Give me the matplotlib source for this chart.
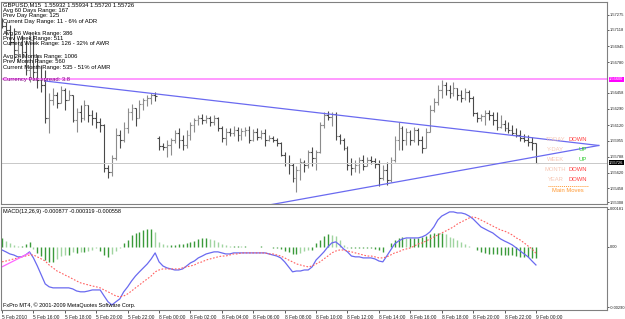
import matplotlib
matplotlib.use("Agg")
import matplotlib.pyplot as plt
import matplotlib.transforms as mtransforms
import numpy as np

plt.rcParams['font.family'] = ['Liberation Sans', 'DejaVu Sans']

# GBPUSD M15, one bar per 15 minutes from 5 Feb 2010 14:00 to 9 Feb 2010 00:00
bar_open = [
    1.57222, 1.57160, 1.57117, 1.56991, 1.56907, 1.56960, 1.56886, 1.56697, 1.57012, 1.56676,
    1.56592, 1.56540, 1.56193, 1.56382, 1.56435, 1.56351, 1.56487, 1.56382, 1.56435, 1.56172,
    1.56256, 1.56193, 1.56330, 1.56225, 1.56193, 1.56151, 1.56120, 1.55668, 1.55626, 1.55773,
    1.56015, 1.55962, 1.56088, 1.56256, 1.56298, 1.56193, 1.56340, 1.56382, 1.56403, 1.56435,
    1.55983, 1.55899, 1.55889, 1.55910, 1.55962, 1.56036, 1.55962, 1.55910, 1.56015, 1.56120,
    1.56172, 1.56193, 1.56172, 1.56193, 1.56151, 1.56193, 1.56088, 1.55983, 1.56046, 1.56036,
    1.56067, 1.56015, 1.56057, 1.56067, 1.55962, 1.56046, 1.55994, 1.56036, 1.55962, 1.55983,
    1.55962, 1.55931, 1.55805, 1.55721, 1.55700, 1.55563, 1.55647, 1.55731, 1.55700, 1.55836,
    1.55773, 1.55836, 1.56120, 1.56225, 1.56204, 1.56235, 1.56004, 1.55962, 1.55878, 1.55700,
    1.55668, 1.55700, 1.55752, 1.55689, 1.55752, 1.55742, 1.55710, 1.55563, 1.55647, 1.55542,
    1.55752, 1.55962, 1.56088, 1.55962, 1.56046, 1.55962, 1.56067, 1.55962, 1.55878, 1.56046,
    1.56277, 1.56361, 1.56487, 1.56540, 1.56487, 1.56456, 1.56508, 1.56435, 1.56403, 1.56466,
    1.56403, 1.56246, 1.56193, 1.56214, 1.56246, 1.56225, 1.56172, 1.56099, 1.56130, 1.56088,
    1.56067, 1.56036, 1.56015, 1.55983, 1.55962, 1.55941, 1.55932]
bar_high = [
    1.57244, 1.57201, 1.57170, 1.57138, 1.57033, 1.57065, 1.57012, 1.57096, 1.57065, 1.56855,
    1.56750, 1.56697, 1.56456, 1.56508, 1.56466, 1.56529, 1.56508, 1.56487, 1.56435, 1.56298,
    1.56330, 1.56382, 1.56330, 1.56277, 1.56256, 1.56193, 1.56130, 1.55700, 1.55805, 1.56088,
    1.56067, 1.56151, 1.56298, 1.56340, 1.56298, 1.56382, 1.56403, 1.56435, 1.56456, 1.56466,
    1.56004, 1.55931, 1.55962, 1.55983, 1.56067, 1.56088, 1.56015, 1.56067, 1.56151, 1.56193,
    1.56225, 1.56235, 1.56225, 1.56214, 1.56225, 1.56204, 1.56109, 1.56088, 1.56088, 1.56109,
    1.56099, 1.56088, 1.56099, 1.56109, 1.56078, 1.56088, 1.56067, 1.56078, 1.56015, 1.56004,
    1.55983, 1.55941, 1.55836, 1.55805, 1.55721, 1.55689, 1.55773, 1.55752, 1.55857, 1.55889,
    1.55857, 1.56151, 1.56256, 1.56267, 1.56256, 1.56256, 1.56025, 1.55983, 1.55899, 1.55773,
    1.55752, 1.55784, 1.55805, 1.55784, 1.55794, 1.55773, 1.55752, 1.55700, 1.55731, 1.55784,
    1.56004, 1.56151, 1.56109, 1.56088, 1.56067, 1.56099, 1.56088, 1.56004, 1.56088, 1.56330,
    1.56403, 1.56540, 1.56592, 1.56571, 1.56540, 1.56571, 1.56508, 1.56487, 1.56508, 1.56487,
    1.56424, 1.56256, 1.56235, 1.56277, 1.56277, 1.56256, 1.56256, 1.56225, 1.56172, 1.56151,
    1.56120, 1.56088, 1.56067, 1.56025, 1.56015, 1.55994, 1.55934]
bar_low = [
    1.57138, 1.57065, 1.56960, 1.56802, 1.56781, 1.56823, 1.56645, 1.56571, 1.56592, 1.56508,
    1.56466, 1.56141, 1.56036, 1.56330, 1.56298, 1.56351, 1.56277, 1.56382, 1.56151, 1.56046,
    1.56151, 1.56172, 1.56151, 1.56120, 1.56088, 1.56046, 1.55626, 1.55563, 1.55584, 1.55752,
    1.55878, 1.55941, 1.56036, 1.56172, 1.56109, 1.56193, 1.56277, 1.56319, 1.56340, 1.56372,
    1.55857, 1.55857, 1.55784, 1.55805, 1.55931, 1.55878, 1.55857, 1.55878, 1.55962, 1.56046,
    1.56120, 1.56130, 1.56141, 1.56109, 1.56120, 1.56057, 1.55941, 1.55910, 1.56004, 1.56004,
    1.55952, 1.55962, 1.56004, 1.55931, 1.55952, 1.55962, 1.55973, 1.55899, 1.55952, 1.55941,
    1.55899, 1.55794, 1.55689, 1.55605, 1.55521, 1.55416, 1.55542, 1.55626, 1.55668, 1.55689,
    1.55647, 1.55826, 1.56088, 1.56172, 1.56109, 1.55962, 1.55920, 1.55857, 1.55647, 1.55595,
    1.55626, 1.55616, 1.55647, 1.55689, 1.55710, 1.55668, 1.55479, 1.55542, 1.55490, 1.55521,
    1.55731, 1.55857, 1.55857, 1.55910, 1.55910, 1.55941, 1.55910, 1.55826, 1.55878, 1.56046,
    1.56256, 1.56330, 1.56403, 1.56435, 1.56403, 1.56424, 1.56382, 1.56361, 1.56382, 1.56361,
    1.56214, 1.56151, 1.56162, 1.56120, 1.56172, 1.56120, 1.56067, 1.56088, 1.56057, 1.56036,
    1.56015, 1.55994, 1.55952, 1.55941, 1.55899, 1.55857, 1.55720]
bar_close = [
    1.57160, 1.57117, 1.56991, 1.56907, 1.56960, 1.56886, 1.56697, 1.57012, 1.56676, 1.56592,
    1.56540, 1.56193, 1.56382, 1.56435, 1.56351, 1.56487, 1.56382, 1.56435, 1.56172, 1.56256,
    1.56193, 1.56330, 1.56225, 1.56193, 1.56151, 1.56120, 1.55668, 1.55626, 1.55773, 1.56015,
    1.55962, 1.56088, 1.56256, 1.56298, 1.56193, 1.56340, 1.56382, 1.56403, 1.56435, 1.56424,
    1.55899, 1.55889, 1.55910, 1.55962, 1.56036, 1.55962, 1.55910, 1.56015, 1.56120, 1.56172,
    1.56193, 1.56172, 1.56193, 1.56151, 1.56193, 1.56088, 1.55983, 1.56046, 1.56036, 1.56067,
    1.56015, 1.56057, 1.56067, 1.55962, 1.56046, 1.55994, 1.56036, 1.55962, 1.55983, 1.55962,
    1.55931, 1.55805, 1.55721, 1.55700, 1.55563, 1.55647, 1.55731, 1.55700, 1.55836, 1.55773,
    1.55836, 1.56120, 1.56225, 1.56204, 1.56235, 1.56004, 1.55962, 1.55878, 1.55700, 1.55668,
    1.55700, 1.55752, 1.55689, 1.55752, 1.55742, 1.55710, 1.55563, 1.55647, 1.55542, 1.55752,
    1.55962, 1.56088, 1.55962, 1.56046, 1.55962, 1.56067, 1.55962, 1.55878, 1.56046, 1.56277,
    1.56361, 1.56487, 1.56540, 1.56487, 1.56456, 1.56508, 1.56435, 1.56403, 1.56466, 1.56403,
    1.56246, 1.56193, 1.56214, 1.56246, 1.56225, 1.56172, 1.56099, 1.56130, 1.56088, 1.56067,
    1.56036, 1.56015, 1.55983, 1.55962, 1.55941, 1.55931, 1.55726]

# MACD(12,26,9), values in 1e-5
macd_main = np.array([
    -16, -25, -35, -40, -49, -49, -40, -25, -54, -93,
    -136, -179, -193, -198, -198, -198, -198, -198, -203, -213,
    -217, -217, -213, -208, -208, -208, -237, -265, -280, -265,
    -251, -217, -193, -165, -141, -121, -102, -83, -59, -30,
    -73, -93, -102, -107, -112, -112, -107, -93, -78, -69,
    -54, -45, -35, -30, -25, -25, -30, -35, -35, -30,
    -30, -30, -30, -30, -30, -30, -30, -30, -35, -40,
    -45, -54, -73, -97, -121, -117, -117, -112, -112, -97,
    -64, -45, -25, -1, 18, 23, 8, -11, -25, -45,
    -49, -49, -54, -54, -54, -59, -69, -73, -45, -16,
    13, 27, 37, 42, 42, 42, 42, 47, 56, 71,
    95, 128, 147, 157, 167, 167, 162, 162, 157, 147,
    133, 114, 95, 85, 75, 66, 51, 37, 27, 18,
    8, -6, -21, -35, -49, -69, -88]) * 1e-5
macd_signal = np.array([
    -73, -69, -64, -59, -54, -49, -45, -40, -40, -49,
    -59, -69, -88, -102, -117, -126, -136, -145, -155, -165,
    -174, -179, -184, -189, -193, -198, -208, -217, -227, -237,
    -241, -237, -227, -213, -198, -184, -169, -155, -141, -121,
    -112, -107, -107, -107, -107, -107, -102, -97, -93, -88,
    -78, -73, -64, -59, -54, -49, -45, -45, -40, -35,
    -35, -30, -30, -30, -30, -30, -30, -30, -35, -35,
    -40, -45, -54, -64, -73, -83, -88, -93, -97, -93,
    -83, -73, -59, -45, -30, -21, -16, -16, -21, -25,
    -30, -35, -40, -45, -45, -49, -54, -54, -49, -40,
    -30, -25, -16, -11, -6, 3, 13, 18, 27, 37,
    47, 56, 66, 75, 85, 95, 109, 119, 128, 138,
    143, 138, 128, 119, 109, 99, 90, 80, 75, 66,
    56, 42, 32, 18, 3, -11, -32]) * 1e-5
macd_hist = np.array([
    43, 29, 19, 10, 5, 5, 14, 24, -10, -29,
    -43, -62, -72, -72, -58, -43, -38, -38, -24, -29,
    -24, -24, -19, -14, -5, -19, -38, -48, -34, -19,
    -5, 19, 34, 58, 67, 72, 82, 86, 86, 72,
    24, 14, 10, 10, 10, 14, 14, 19, 24, 29,
    38, 43, 43, 38, 34, 24, 14, 10, 5, 5,
    5, 2, 2, 0, 0, 0, 2, 0, -2, -5,
    -5, -10, -19, -24, -34, -34, -29, -19, -14, -14,
    19, 34, 53, 62, 58, 53, 34, 10, -5, -5,
    -5, -5, -5, -5, -7, -10, -14, -24, 0, 19,
    34, 43, 48, 43, 43, 43, 43, 48, 53, 62,
    67, 67, 67, 62, 48, 43, 34, 24, 14, 5,
    0, -14, -24, -29, -34, -34, -34, -38, -38, -38,
    -38, -43, -48, -48, -48, -53, -56]) * 1e-5
# short magenta segment at the left edge of the MACD window
extra_line_bars = [0, 7]
extra_line_vals = [-0.00097, -0.00030]

# trend lines (bar index, price)
upper_line_bars = [11, 152]
upper_line_prices = [1.56582, 1.55905]
lower_line_bars = [68, 152]
lower_line_prices = [1.55280, 1.55905]
spread_level = 1.56600
bid_level = 1.55726

time_labels = ["5 Feb 2010", "5 Feb 16:00", "5 Feb 18:00", "5 Feb 20:00", "5 Feb 22:00",
               "8 Feb 00:00", "8 Feb 02:00", "8 Feb 04:00", "8 Feb 06:00", "8 Feb 08:00",
               "8 Feb 10:00", "8 Feb 12:00", "8 Feb 14:00", "8 Feb 16:00", "8 Feb 18:00",
               "8 Feb 20:00", "8 Feb 22:00", "9 Feb 00:00"]
time_label_bars = list(range(0, 137, 8))
price_ticks = [1.57275, 1.57118, 1.56945, 1.56780, 1.56458, 1.56290, 1.56120,
               1.55955, 1.55788, 1.55620, 1.55458, 1.55308]
macd_ticks = [0.00181, 0.0, -0.00290]
macd_tick_labels = ["0.00181", "0.00", "-0.00290"]

info_lines = ["GBPUSD,M15  1.55932 1.55934 1.55720 1.55726",
              "Avg 60 Days Range: 167", "Prev Day Range: 125",
              "Current Day Range: 11 - 6% of ADR",
              "Avg 26 Weeks Range: 386", "Prev Week Range: 511",
              "Current Week Range: 126 - 32% of AWR",
              "Avg 24 Months Range: 1006", "Prev Month Range: 560",
              "Current Month Range: 535 - 51% of AMR"]
info_rows = [5, 10.5, 15.8, 21, 33.3, 38.4, 43.5, 56.8, 62, 67.8]
moves_labels = ["TODAY", "Y-DAY", "WEEK", "MONTH", "YEAR"]
moves_values = ["DOWN", "UP", "UP", "DOWN", "DOWN"]

W, H = 625, 319
fig = plt.figure(figsize=(W / 100, H / 100), dpi=100)
fig.patch.set_facecolor('white')


def px(x, y):
    return x / W, 1 - y / H


frame_col = '#808080'
ax = fig.add_axes([1 / W, (H - 204) / H, 606 / W, 202 / H])
mx = fig.add_axes([1 / W, (H - 310) / H, 606 / W, 103 / H])
xlim = (-0.26, 154.1)
for a in (ax, mx):
    a.set_xlim(*xlim)
    for s in a.spines.values():
        s.set_color(frame_col)
        s.set_linewidth(0.8)
    a.yaxis.tick_right()
    a.tick_params(axis='y', direction='out', length=1.5, width=0.6, color='#404040',
                  labelsize=2.9, pad=0.5, labelcolor='#202020')

# price bars
x = np.arange(len(bar_close))
o = np.array(bar_open)
c = np.array(bar_close)
cols = np.where(c >= o, '#8c8c8c', '#4a4a4a')
ax.vlines(x, bar_low, bar_high, colors=cols, lw=0.8)
ax.hlines(o, x - 0.45, x, colors=cols, lw=0.8)
ax.hlines(c, x, x + 0.45, colors=cols, lw=0.8)

ax.axhline(spread_level, color='#ff99ff', lw=1.4)
ax.axhline(bid_level, color='#c8c8c8', lw=0.7)
ax.plot(upper_line_bars, upper_line_prices, color='#6a6af0', lw=0.9)
ax.plot(lower_line_bars, lower_line_prices, color='#6a6af0', lw=0.9)

ax.set_ylim(1.552905, 1.574115)
ax.set_yticks(price_ticks)
ax.set_yticklabels([f"{p:.5f}" for p in price_ticks])
ax.set_xticks([])

trans = mtransforms.blended_transform_factory(ax.transAxes, ax.transData)
ax.text(1.0035, spread_level, "1.56600", transform=trans, fontsize=2.9, color='white',
        va='center', ha='left', clip_on=False,
        bbox=dict(boxstyle='square,pad=0.1', fc='#ff00ff', ec='none'))
ax.text(1.0035, bid_level, "1.55726", transform=trans, fontsize=2.9, color='white',
        va='center', ha='left', clip_on=False,
        bbox=dict(boxstyle='square,pad=0.1', fc='black', ec='none'))

# MACD window
hcol = ['#3a9a3a' if i == 0 or abs(macd_hist[i]) >= abs(macd_hist[i - 1]) else '#9fd49f'
        for i in range(len(macd_hist))]
mx.vlines(x, 0, macd_hist, colors=hcol, lw=1.0)
mx.plot(x, macd_main, color='#6a6af0', lw=0.9)
mx.plot(x, macd_signal, color='#ff6060', lw=0.8, ls=(0, (1.5, 1.5)))
mx.plot(extra_line_bars, extra_line_vals, color='#ff66ff', lw=0.9)
mx.set_ylim(-0.003044, 0.001906)
mx.set_yticks(macd_ticks)
mx.set_yticklabels(macd_tick_labels)
mx.set_xticks(time_label_bars)
mx.set_xticklabels(time_labels)
mx.tick_params(axis='x', direction='out', length=2.5, width=0.6, color='#404040',
               labelsize=3.5, pad=0.8, labelcolor='#202020')
for t in mx.get_xticklabels():
    t.set_ha('left')

# texts
for txt, row in zip(info_lines, info_rows):
    fig.text(*px(3, row), txt, fontsize=4.2, color='black', va='center', ha='left')
fig.text(*px(3, 80), "Currency Pair spread: 3.8", fontsize=4.2, color='#800080',
         va='center', ha='left')
for k, (lab, val) in enumerate(zip(moves_labels, moves_values)):
    yy = [139.3, 149.3, 159.3, 169.3, 179.3][k]
    fig.text(*px(555.5, yy), lab, fontsize=4.2, color='#f6c8b6', va='center', ha='center')
    fig.text(*px(587, yy), val, fontsize=4.2, va='center', ha='right',
             color='#ff4040' if val == 'DOWN' else '#33cc33')
fig.add_artist(plt.Line2D([548 / W, 588 / W], [1 - 186 / H] * 2, color='#ff9933',
                          lw=0.7, ls=(0, (1, 1)), transform=fig.transFigure))
fig.text(*px(568, 191), "Main Moves", fontsize=4.2, color='#ff9933', va='center', ha='center')
fig.text(*px(3, 211.5), "MACD(12,26,9) -0.000877 -0.000319 -0.000558", fontsize=4.0,
         color='black', va='center', ha='left')
fig.text(*px(3, 305), "FxPro MT4, \u00a9 2001-2009 MetaQuotes Software Corp.", fontsize=4.0,
         color='black', va='center', ha='left')

fig.savefig("out.png", dpi=100, facecolor='white')
